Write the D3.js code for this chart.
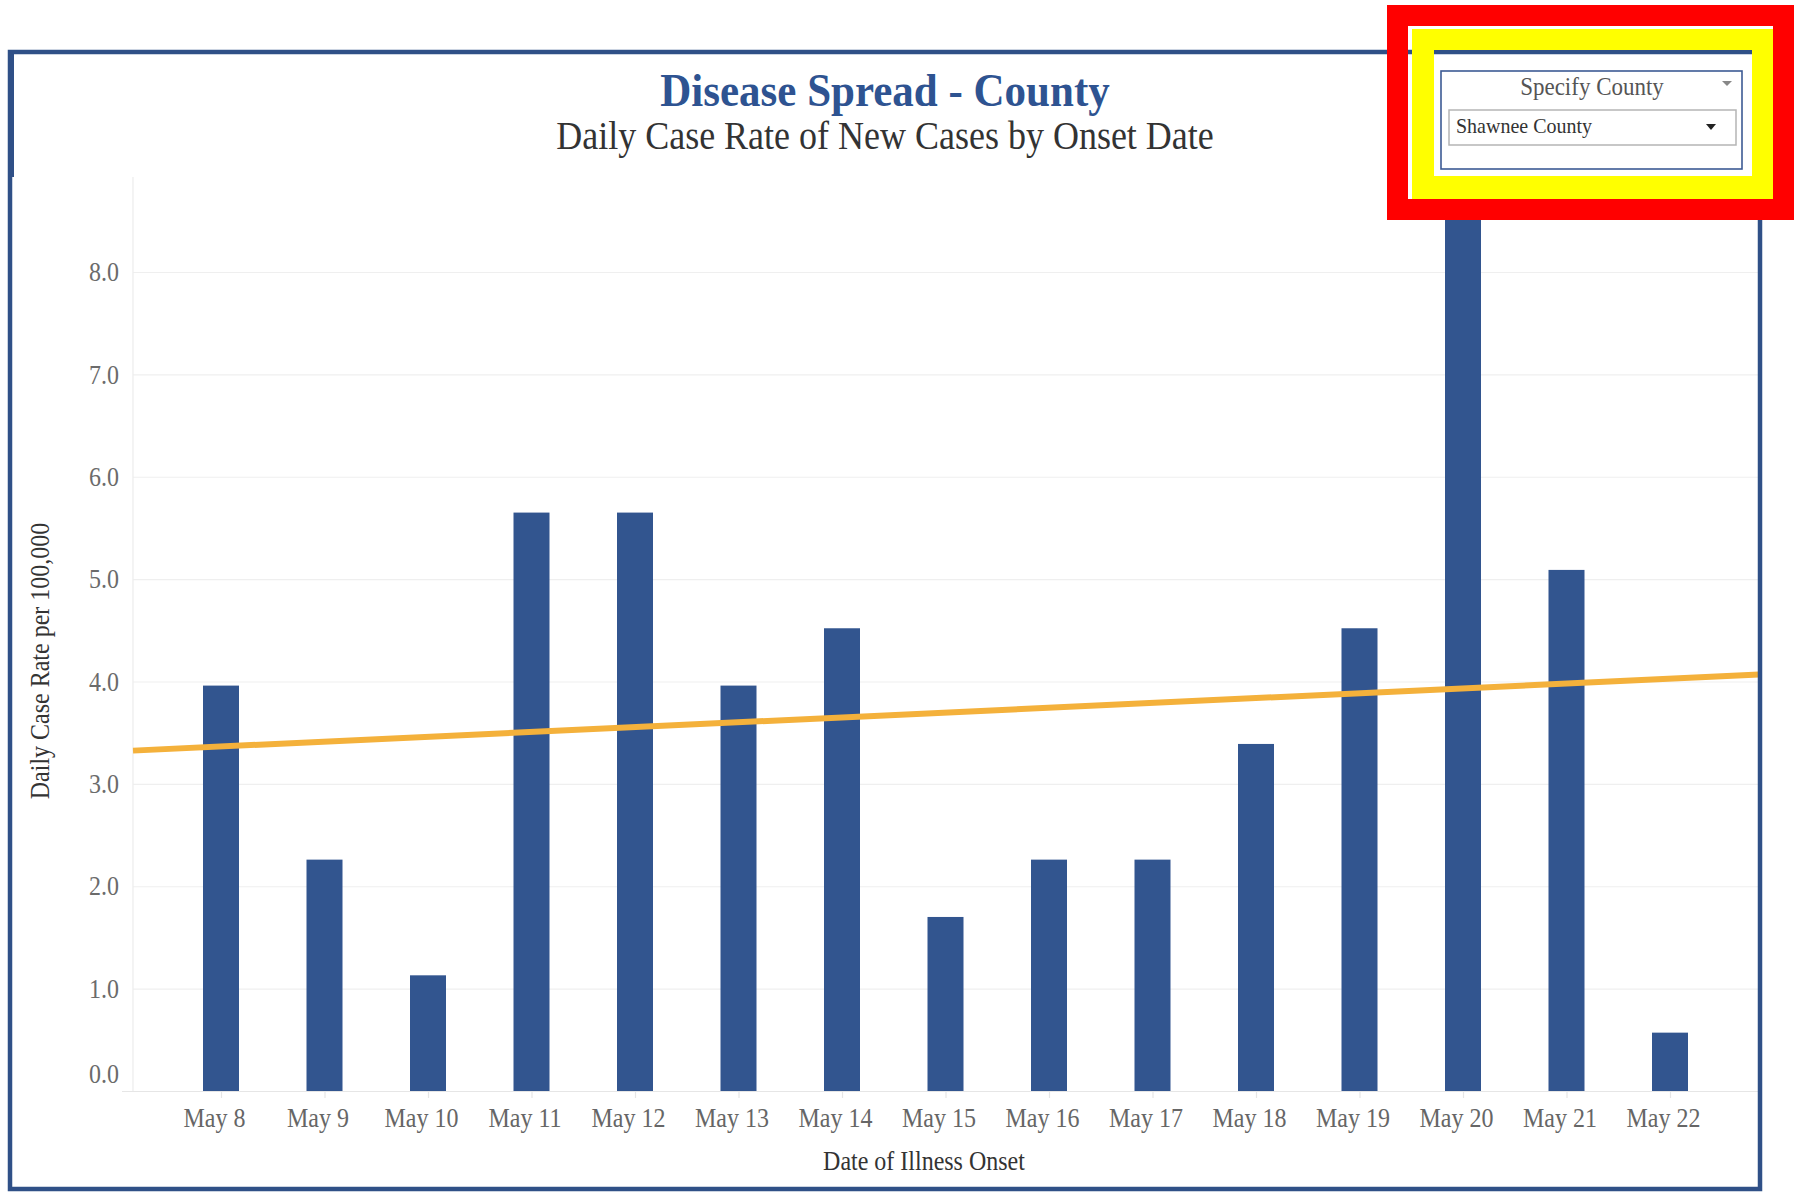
<!DOCTYPE html>
<html><head><meta charset="utf-8">
<script src="https://cdn.jsdelivr.net/npm/d3@7"></script>
<style>html,body{margin:0;padding:0;background:#fff;} svg{display:block;}</style>
</head><body><svg id="c" width="1794" height="1197"></svg>
<script>
// ---- data ----
const dates = ["May 8","May 9","May 10","May 11","May 12","May 13","May 14","May 15","May 16","May 17","May 18","May 19","May 20","May 21","May 22"];
const rates = [3.96,2.26,1.13,5.65,5.65,3.96,4.52,1.70,2.26,2.26,3.39,4.52,8.52,5.09,0.57];
const yTicks = [0,1,2,3,4,5,6,7,8];
const titleText = "Disease Spread - County";
const subtitleText = "Daily Case Rate of New Cases by Onset Date";
const xTitleText = "Date of Illness Onset";
const yTitleText = "Daily Case Rate per 100,000";
const filterLabel = "Specify County";
const filterValue = "Shawnee County";

// ---- setup ----
const svg = d3.select("#c");
const SY = 1.1; // vertical stretch of the reference text
const FONT = "'Liberation Serif','Times New Roman',serif";
const BLUE = "#32558f";
const plot = {l:133, r:1759, t:177, b:1091};

svg.append("rect").attr("width",1794).attr("height",1197).attr("fill","#fff");

function txt(g, px, py, s, o) {
  return g.append("text")
    .attr("transform", `translate(${px},${py}) scale(1,${o.sy||SY})`)
    .attr("text-anchor", o.anchor || "start")
    .attr("font-family", FONT)
    .attr("font-size", o.size)
    .attr("font-weight", o.weight || "normal")
    .attr("fill", o.fill || "#333")
    .text(s);
}

const x = d3.scalePoint().domain(dates).range([221, 1670]);
const y = d3.scaleLinear().domain([0, 8]).range([plot.b, 272]);

// ---- y axis + gridlines ----
const yAxis = svg.append("g").attr("transform", `translate(${plot.l},0)`)
  .call(d3.axisLeft(y).tickValues(yTicks).tickFormat(d3.format(".1f"))
    .tickSize(-(plot.r - plot.l)).tickPadding(14));
yAxis.select(".domain").remove();
yAxis.selectAll(".tick line").attr("stroke", "#efefef").attr("stroke-width", 1.2);
yAxis.selectAll(".tick").filter(d => d === 0).select("line")
  .attr("x1", -11).attr("stroke", "#e6e6e6");
yAxis.selectAll(".tick text")
  .attr("font-family", FONT).attr("font-size", 24).attr("fill", "#6b6b6b")
  .attr("dy", "0.33em")
  .attr("transform", `scale(1,${SY})`);
yAxis.selectAll(".tick").filter(d => d === 0).select("text").attr("y", -16);

// vertical axis line
svg.append("line").attr("x1", plot.l).attr("x2", plot.l).attr("y1", plot.t).attr("y2", plot.b)
  .attr("stroke", "#ececec").attr("stroke-width", 1.2);

// ---- x axis ----
const xAxis = svg.append("g").attr("transform", `translate(0,${plot.b})`)
  .call(d3.axisBottom(x).tickSize(7).tickPadding(0));
xAxis.select(".domain").remove();
xAxis.selectAll(".tick line").attr("stroke", "#e6e6e6").attr("stroke-width", 1.2);
xAxis.selectAll(".tick text")
  .attr("font-family", FONT).attr("font-size", 24).attr("fill", "#666")
  .attr("dy", 0).attr("y", 36 / SY).attr("x", -7)
  .attr("transform", `scale(1,${SY})`);

// ---- bars ----
const barW = 36;
svg.append("g").selectAll("rect").data(rates).join("rect")
  .attr("x", (d, i) => x(dates[i]) - barW / 2)
  .attr("y", d => y(d))
  .attr("width", barW)
  .attr("height", d => y(0) - y(d))
  .attr("fill", BLUE);

// ---- linear trend line (least squares on the bars) ----
const mi = d3.mean(rates, (d, i) => i);
const mv = d3.mean(rates);
const slope = d3.sum(rates, (d, i) => (i - mi) * (d - mv)) / d3.sum(rates, (d, i) => (i - mi) ** 2);
const trendAt = px => { const i = (px - x(dates[0])) / x.step(); return mv + slope * (i - mi); };
svg.append("line")
  .attr("x1", plot.l).attr("y1", y(trendAt(plot.l)))
  .attr("x2", plot.r).attr("y2", y(trendAt(plot.r)))
  .attr("stroke", "#f4b13b").attr("stroke-width", 6);

// ---- titles ----
txt(svg, 885, 106, titleText, {size: 43, weight: "bold", fill: "#2e5391", anchor: "middle"});
txt(svg, 885, 149, subtitleText, {size: 36, fill: "#333", anchor: "middle"});
txt(svg, 924, 1170, xTitleText, {size: 24, fill: "#333", anchor: "middle"});
svg.append("text")
  .attr("transform", `translate(49,661) rotate(-90) scale(1,${SY})`)
  .attr("text-anchor", "middle").attr("font-family", FONT).attr("font-size", 24).attr("fill", "#333")
  .text(yTitleText);

// ---- outer frame ----
svg.append("rect").attr("x", 10).attr("y", 52).attr("width", 1750).attr("height", 1137)
  .attr("fill", "none").attr("stroke", "#2f5087").attr("stroke-width", 4.5);
svg.append("line").attr("x1", 11).attr("x2", 11).attr("y1", 50).attr("y2", 177)
  .attr("stroke", "#2f5087").attr("stroke-width", 6);

// ---- county filter widget ----
svg.append("rect").attr("x", 1441).attr("y", 71).attr("width", 301).attr("height", 98)
  .attr("fill", "#fff").attr("stroke", "#3c5a94").attr("stroke-width", 1.6);
txt(svg, 1592, 95, filterLabel, {size: 23, fill: "#555", anchor: "middle"});
svg.append("path").attr("d", "M1722,81 L1732,81 L1727,86 Z").attr("fill", "#888");
svg.append("rect").attr("x", 1449).attr("y", 110).attr("width", 287).attr("height", 35)
  .attr("fill", "#fff").attr("stroke", "#b5b5b5").attr("stroke-width", 1.5);
txt(svg, 1456, 133, filterValue, {size: 20, fill: "#333"});
svg.append("path").attr("d", "M1706,124 L1716,124 L1711,130 Z").attr("fill", "#222");

// ---- highlight boxes ----
svg.append("path")
  .attr("d", "M1387,5 H1794 V220 H1387 Z M1408,26 V199 H1773 V26 Z")
  .attr("fill", "#ff0000").attr("fill-rule", "evenodd");
svg.append("path")
  .attr("d", "M1412,29 H1773 V199 H1412 Z M1434,50 V176 H1752 V50 Z")
  .attr("fill", "#ffff00").attr("fill-rule", "evenodd");
</script>
</body></html>
